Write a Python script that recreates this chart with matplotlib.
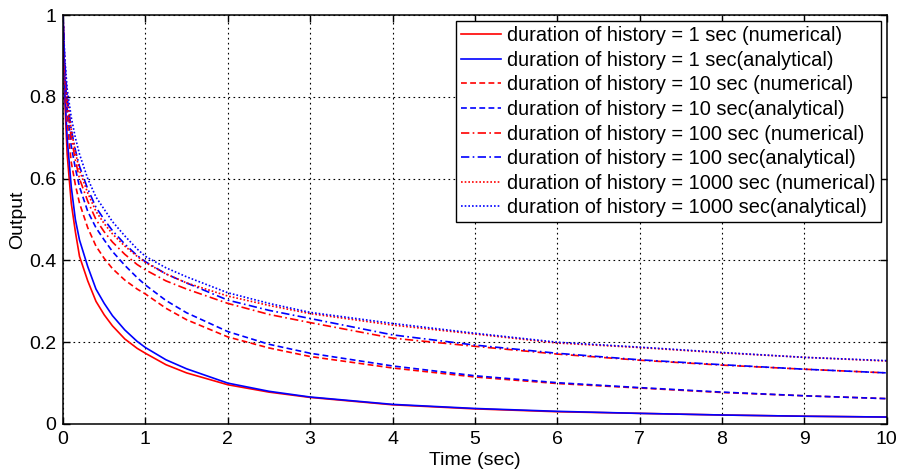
import numpy as np
import matplotlib.pyplot as plt

plt.rcParams['font.family'] = ['Liberation Sans', 'DejaVu Sans']

# time points (sec)
t = [0, 0.02, 0.05, 0.1, 0.15, 0.2, 0.3, 0.4, 0.5, 0.6, 0.75, 0.9, 1, 1.25, 1.5, 2, 2.5, 3, 4, 5, 6, 7, 8, 9, 10]

num_1 = [1.0, 0.80, 0.66, 0.54, 0.47, 0.41, 0.35, 0.30, 0.267, 0.240, 0.208, 0.185, 0.173, 0.145,
         0.125, 0.096, 0.078, 0.065, 0.047, 0.037, 0.030, 0.026, 0.022, 0.019, 0.017]
ana_1 = [1.0, 0.82, 0.70, 0.58, 0.50, 0.45, 0.385, 0.33, 0.295, 0.265, 0.230, 0.202, 0.187, 0.157,
         0.135, 0.100, 0.080, 0.066, 0.048, 0.038, 0.031, 0.026, 0.022, 0.019, 0.017]
num_10 = [1.0, 0.85, 0.74, 0.64, 0.585, 0.54, 0.48, 0.435, 0.405, 0.380, 0.352, 0.330, 0.318, 0.283,
          0.255, 0.213, 0.186, 0.165, 0.137, 0.115, 0.099, 0.088, 0.077, 0.069, 0.062]
ana_10 = [1.0, 0.87, 0.77, 0.68, 0.625, 0.58, 0.52, 0.48, 0.45, 0.422, 0.388, 0.358, 0.340, 0.302,
          0.272, 0.226, 0.195, 0.173, 0.142, 0.118, 0.101, 0.089, 0.078, 0.069, 0.062]
num_100 = [1.0, 0.87, 0.78, 0.70, 0.645, 0.60, 0.545, 0.50, 0.47, 0.445, 0.415, 0.390, 0.377, 0.350,
           0.330, 0.295, 0.268, 0.248, 0.210, 0.190, 0.171, 0.156, 0.144, 0.134, 0.125]
ana_100 = [1.0, 0.89, 0.80, 0.72, 0.67, 0.63, 0.575, 0.53, 0.50, 0.473, 0.440, 0.412, 0.397, 0.367,
           0.345, 0.303, 0.278, 0.258, 0.218, 0.193, 0.173, 0.157, 0.145, 0.134, 0.125]
num_1000 = [1.0, 0.88, 0.80, 0.72, 0.665, 0.62, 0.565, 0.52, 0.49, 0.465, 0.435, 0.410, 0.395, 0.367,
            0.345, 0.313, 0.290, 0.270, 0.242, 0.220, 0.198, 0.187, 0.174, 0.163, 0.154]
ana_1000 = [1.0, 0.90, 0.82, 0.75, 0.70, 0.66, 0.60, 0.555, 0.525, 0.495, 0.460, 0.428, 0.410, 0.382,
            0.360, 0.321, 0.295, 0.273, 0.246, 0.222, 0.200, 0.188, 0.175, 0.163, 0.155]

durations = ['1', '10', '100', '1000']
numerical = [num_1, num_10, num_100, num_1000]
analytical = [ana_1, ana_10, ana_100, ana_1000]
styles = ['-', (0, (3.5, 2)), (0, (5, 2, 1, 2)), (0, (1, 1.2))]

fig = plt.figure(figsize=(9.03, 4.73), dpi=100)
ax = fig.add_axes([0.0698, 0.1036, 0.9122, 0.8644])

for d, yn, ya, ls in zip(durations, numerical, analytical, styles):
    ax.plot(t, yn, color='#ff0000', ls=ls, lw=1.2,
            label='duration of history = %s sec (numerical)' % d)
    ax.plot(t, ya, color='#0000ff', ls=ls, lw=1.2,
            label='duration of history = %s sec(analytical)' % d)

ax.set_xlim(0, 10)
ax.set_ylim(0, 1)
ax.set_xticks(range(0, 11))
ax.set_yticks([0, 0.2, 0.4, 0.6, 0.8, 1])
ax.set_yticklabels(['0', '0.2', '0.4', '0.6', '0.8', '1'])
ax.tick_params(direction='in', top=True, right=True, labelsize=14, length=5, width=1, pad=5)
ax.grid(True, color='black', ls=(0, (1.5, 3)), lw=0.8)
for s in ax.spines.values():
    s.set_linewidth(1.1)

ax.set_xlabel('Time (sec)', fontsize=14, labelpad=3)
ax.set_ylabel('Output', fontsize=14, labelpad=2)

leg = ax.legend(loc='upper right', fontsize=14.4, handlelength=2.0, handletextpad=0.3,
                labelspacing=0.28, borderaxespad=0.3, borderpad=0.25, fancybox=False,
                framealpha=1, edgecolor='black')
leg.get_frame().set_linewidth(1.0)

fig.savefig('out.png', dpi=100)
